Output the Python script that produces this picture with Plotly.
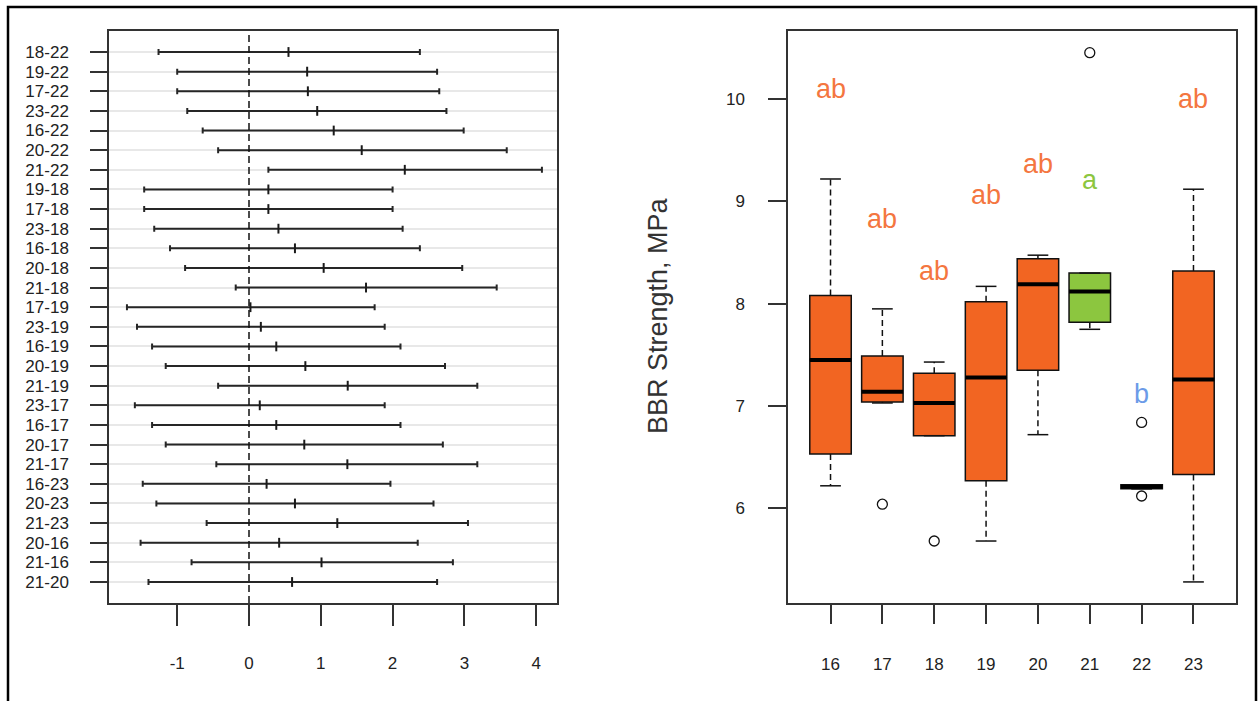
import plotly.graph_objects as go

# ---------------- Data: left panel (pairwise difference intervals) ----------------
pairs = ["18-22", "19-22", "17-22", "23-22", "16-22", "20-22", "21-22",
         "19-18", "17-18", "23-18", "16-18", "20-18", "21-18",
         "17-19", "23-19", "16-19", "20-19", "21-19",
         "23-17", "16-17", "20-17", "21-17",
         "16-23", "20-23", "21-23",
         "20-16", "21-16", "21-20"]
diff_lower = [-1.26, -1.00, -1.00, -0.86, -0.645, -0.43, 0.27,
              -1.46, -1.46, -1.32, -1.10, -0.89, -0.185,
              -1.70, -1.56, -1.35, -1.16, -0.43,
              -1.59, -1.35, -1.16, -0.455,
              -1.48, -1.29, -0.59,
              -1.51, -0.80, -1.40]
diff_mid = [0.55, 0.81, 0.82, 0.95, 1.18, 1.57, 2.17,
            0.27, 0.27, 0.41, 0.64, 1.04, 1.63,
            0.02, 0.165, 0.38, 0.785, 1.375,
            0.15, 0.38, 0.77, 1.37,
            0.245, 0.64, 1.23,
            0.42, 1.01, 0.60]
diff_upper = [2.38, 2.62, 2.65, 2.75, 2.99, 3.59, 4.08,
              2.00, 2.00, 2.14, 2.38, 2.97, 3.45,
              1.75, 1.89, 2.11, 2.73, 3.18,
              1.89, 2.11, 2.70, 3.18,
              1.97, 2.57, 3.05,
              2.35, 2.84, 2.62]
left_xticks = [-1, 0, 1, 2, 3, 4]
left_xticktext = ["-1", "0", "1", "2", "3", "4"]

# ---------------- Data: right panel (boxplots) ----------------
groups = [16, 17, 18, 19, 20, 21, 22, 23]
whisk_low = [6.22, 7.03, 6.71, 5.68, 6.72, 7.75, 6.19, 5.28]
q1 = [6.53, 7.04, 6.71, 6.27, 7.35, 7.82, 6.19, 6.33]
median = [7.45, 7.14, 7.03, 7.28, 8.19, 8.12, 6.21, 7.26]
q3 = [8.08, 7.49, 7.32, 8.02, 8.44, 8.30, 6.23, 8.32]
whisk_high = [9.22, 7.95, 7.43, 8.17, 8.475, 8.30, 6.23, 9.12]
outlier_group = [17, 18, 21, 22, 22]
outlier_value = [6.04, 5.68, 10.455, 6.84, 6.12]
letters = ["ab", "ab", "ab", "ab", "ab", "a", "b", "ab"]
letter_y = [10.10, 8.83, 8.32, 9.06, 9.37, 9.21, 7.12, 10.00]
right_yticks = [6, 7, 8, 9, 10]

ORANGE = "#F26522"
GREEN = "#8CC63F"
BLUE = "#6C9BE8"
box_colors = [ORANGE, ORANGE, ORANGE, ORANGE, ORANGE, GREEN, ORANGE, ORANGE]
letter_colors = ["#F47640", "#F47640", "#F47640", "#F47640", "#F47640", "#8CC63F", BLUE, "#F47640"]

W, H = 1259, 701


def px(x):
    return x / W


def py(y):
    return 1 - y / H


FONT = "Arial, Liberation Sans, sans-serif"
TXT = "#222222"

fig = go.Figure()

# ---- left panel ----
fig.add_trace(go.Scatter(
    x=diff_mid, y=pairs, mode="markers",
    marker=dict(symbol="line-ns-open", size=7, color="#1a1a1a",
                line=dict(width=2, color="#1a1a1a")),
    error_x=dict(type="data", symmetric=False,
                 array=[u - m for u, m in zip(diff_upper, diff_mid)],
                 arrayminus=[m - l for m, l in zip(diff_mid, diff_lower)],
                 width=3, thickness=2, color="#262626"),
    xaxis="x", yaxis="y", showlegend=False, hoverinfo="skip"))

# ---- right panel ----
half = 0.4
cap = 0.2
for i, g in enumerate(groups):
    fig.add_trace(go.Box(
        x=[g], q1=[q1[i]], median=[median[i]], q3=[q3[i]],
        lowerfence=[q1[i]], upperfence=[q3[i]],
        width=0.8, whiskerwidth=0, boxpoints=False,
        fillcolor=box_colors[i], line=dict(color="#111111", width=1.5),
        xaxis="x2", yaxis="y2", showlegend=False, hoverinfo="skip"))

# dashed whiskers
wx, wy = [], []
for i, g in enumerate(groups):
    wx += [g, g, None, g, g, None]
    wy += [q3[i], whisk_high[i], None, q1[i], whisk_low[i], None]
fig.add_trace(go.Scatter(x=wx, y=wy, mode="lines",
                         line=dict(color="#111111", width=1.5, dash="6px,4px"),
                         xaxis="x2", yaxis="y2", showlegend=False, hoverinfo="skip"))
# whisker caps
cx, cy = [], []
for i, g in enumerate(groups):
    cx += [g - cap, g + cap, None, g - cap, g + cap, None]
    cy += [whisk_high[i], whisk_high[i], None, whisk_low[i], whisk_low[i], None]
fig.add_trace(go.Scatter(x=cx, y=cy, mode="lines",
                         line=dict(color="#111111", width=1.5),
                         xaxis="x2", yaxis="y2", showlegend=False, hoverinfo="skip"))
# medians
mx, my = [], []
for i, g in enumerate(groups):
    mx += [g - half, g + half, None]
    my += [median[i], median[i], None]
fig.add_trace(go.Scatter(x=mx, y=my, mode="lines",
                         line=dict(color="#000000", width=4),
                         xaxis="x2", yaxis="y2", showlegend=False, hoverinfo="skip"))
# outliers
fig.add_trace(go.Scatter(x=outlier_group, y=outlier_value, mode="markers",
                         marker=dict(symbol="circle-open", size=10, color="#111111",
                                     line=dict(width=1.3, color="#111111")),
                         xaxis="x2", yaxis="y2", showlegend=False, hoverinfo="skip"))

# letters
for i, g in enumerate(groups):
    fig.add_annotation(x=g, y=letter_y[i], xref="x2", yref="y2", text=letters[i],
                       showarrow=False, font=dict(family=FONT, size=27, color=letter_colors[i]))

# y title right panel
fig.add_annotation(x=px(658), y=py(316), xref="paper", yref="paper",
                   text="BBR Strength, MPa", textangle=-90, showarrow=False,
                   font=dict(family=FONT, size=27, color="#333333"))

# dashed zero line on left panel
fig.add_shape(type="line", xref="x", yref="y domain", x0=0, x1=0, y0=0, y1=1,
              line=dict(color="#111111", width=1.5, dash="7px,4px"))

# outer frame
fig.add_shape(type="rect", xref="paper", yref="paper",
              x0=px(8), x1=px(1256), y0=-0.05, y1=py(7),
              line=dict(color="#000000", width=2.5))

n = len(pairs)
axis_common = dict(showline=True, mirror=True, linecolor="#333333", linewidth=1.5,
                   ticks="outside", tickcolor="#333333", tickwidth=1.5,
                   zeroline=False, tickfont=dict(family=FONT, size=17, color=TXT))

fig.update_layout(
    width=W, height=H, autosize=False,
    margin=dict(l=0, r=0, t=0, b=0),
    paper_bgcolor="white", plot_bgcolor="white",
    xaxis=dict(domain=[px(109), px(557)], range=[-1.95, 4.29],
               tickvals=left_xticks, ticktext=left_xticktext,
               ticklen=21, ticklabelstandoff=23,
               showgrid=False, **axis_common),
    yaxis=dict(domain=[py(603), py(31)], type="category",
               tickmode="array", tickvals=pairs, ticktext=pairs,
               range=[n - 1 + 1.07, -1.07], ticklen=17, ticklabelstandoff=18,
               showgrid=True, gridcolor="#e8e8e8", gridwidth=2, **axis_common),
    xaxis2=dict(domain=[px(788), px(1236)], range=[15.18, 23.82], anchor="y2",
                tickvals=groups, ticktext=[str(g) for g in groups],
                ticklen=19, ticklabelstandoff=26, showgrid=False, **axis_common),
    yaxis2=dict(domain=[py(603), py(31)], range=[5.074, 10.667], anchor="x2",
                tickvals=right_yticks, ticklen=18, ticklabelstandoff=20,
                showgrid=False, **axis_common),
)

fig.write_html("out.html", config={"displayModeBar": False},
               post_script="document.body.style.margin='0px';document.body.style.overflow='hidden';")
